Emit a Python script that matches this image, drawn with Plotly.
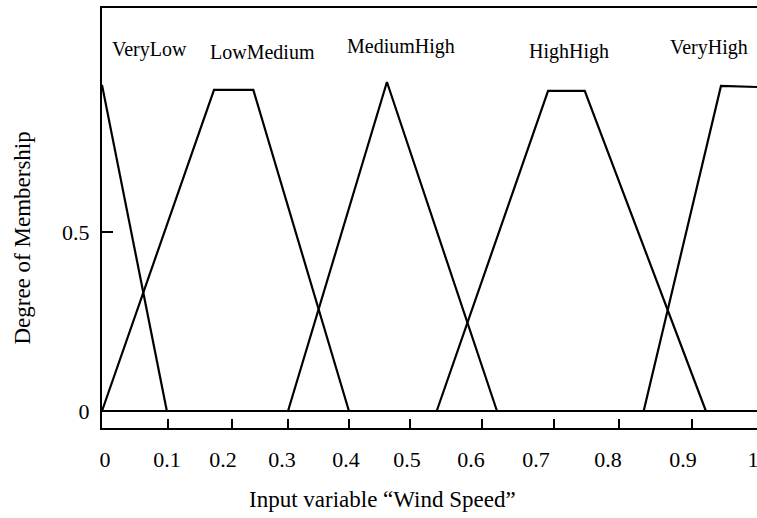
import plotly.graph_objects as go

# ---- data ----
set_names = ["VeryLow", "LowMedium", "MediumHigh", "HighHigh", "VeryHigh"]

verylow_x = [0.0, 0.099]
verylow_y = [0.911, 0.0]

lowmedium_x = [0.0, 0.171, 0.231, 0.377]
lowmedium_y = [0.0, 0.897, 0.897, 0.0]

mediumhigh_x = [0.284, 0.435, 0.603]
mediumhigh_y = [0.0, 0.919, 0.0]

highhigh_x = [0.511, 0.681, 0.737, 0.922]
highhigh_y = [0.0, 0.894, 0.894, 0.0]

veryhigh_x = [0.827, 0.945, 1.0]
veryhigh_y = [0.0, 0.908, 0.905]

baseline_x = [0.0, 1.0]
baseline_y = [0.0, 0.0]

x_tick_labels = ["0", "0.1", "0.2", "0.3", "0.4", "0.5", "0.6", "0.7", "0.8", "0.9", "1"]
y_tick_vals = [0, 0.5]
y_tick_labels = ["0", "0.5"]

# ---- layout positions (as drawn in the reference) ----
x_tick_mark_pos = [0.1008, 0.1985, 0.2840, 0.3771, 0.4702, 0.5802, 0.6901, 0.7893, 0.9008]
x_tick_label_pos = [0.0046, 0.0992, 0.1847, 0.2748, 0.3725, 0.4656, 0.5634, 0.6626, 0.7725, 0.8870, 0.9939]
name_pos = [(0.072, 1.011), (0.245, 1.003), (0.456, 1.017), (0.713, 1.003), (0.927, 1.014)]

FONT = "Liberation Serif, Times New Roman, serif"
LINE = dict(color="black", width=2.2)

fig = go.Figure()
series = [(verylow_x, verylow_y), (lowmedium_x, lowmedium_y), (mediumhigh_x, mediumhigh_y),
          (highhigh_x, highhigh_y), (veryhigh_x, veryhigh_y)]
for name, (xs, ys) in zip(set_names, series):
    fig.add_trace(go.Scatter(x=xs, y=ys, mode="lines", line=LINE, name=name,
                             showlegend=False, cliponaxis=False))

fig.add_trace(go.Scatter(x=baseline_x, y=baseline_y, mode="lines", xaxis="x2",
                         line=dict(color="black", width=2.2), showlegend=False,
                         hoverinfo="skip"))

for name, (ax, ay) in zip(set_names, name_pos):
    fig.add_annotation(x=ax, y=ay, xref="x", yref="y", text=name, showarrow=False,
                       xanchor="center", yanchor="middle",
                       font=dict(family=FONT, size=20, color="black"))

fig.add_annotation(x=0.4275, y=-0.171, xref="paper", yref="paper",
                   text="Input variable \u201cWind Speed\u201d", showarrow=False,
                   xanchor="center", yanchor="middle",
                   font=dict(family=FONT, size=23, color="black"))
fig.add_annotation(x=-0.1206, y=0.451, xref="paper", yref="paper",
                   text="Degree of Membership", textangle=-90, showarrow=False,
                   xanchor="center", yanchor="middle",
                   font=dict(family=FONT, size=23, color="black"))

fig.update_layout(
    width=757, height=518,
    margin=dict(l=102, r=0, t=8, b=90),
    paper_bgcolor="white", plot_bgcolor="white",
    font=dict(family=FONT, color="black"),
    xaxis=dict(range=[0, 1], showline=True, linecolor="black", linewidth=2,
               mirror=True, ticks="inside", tickvals=x_tick_mark_pos,
               ticklen=9, tickwidth=2, tickcolor="black", showticklabels=False,
               showgrid=False, zeroline=False, automargin=False, fixedrange=True),
    xaxis2=dict(range=[0, 1], overlaying="x", anchor="y", side="bottom",
                tickmode="array", tickvals=x_tick_label_pos, ticktext=x_tick_labels,
                ticks="", showline=False, showgrid=False, zeroline=False,
                tickfont=dict(family=FONT, size=22, color="black"),
                ticklabelstandoff=16, ticklabeloverflow="allow", automargin=False),
    yaxis=dict(range=[-0.0475, 1.1257], showline=True, linecolor="black", linewidth=2,
               ticks="inside", tickvals=y_tick_vals, ticktext=y_tick_labels,
               ticklen=11, tickwidth=2, tickcolor="black",
               tickfont=dict(family=FONT, size=22, color="black"),
               ticklabelstandoff=6,
               showgrid=False, zeroline=False, automargin=False),
    showlegend=False,
)

fig.write_html("out.html")
